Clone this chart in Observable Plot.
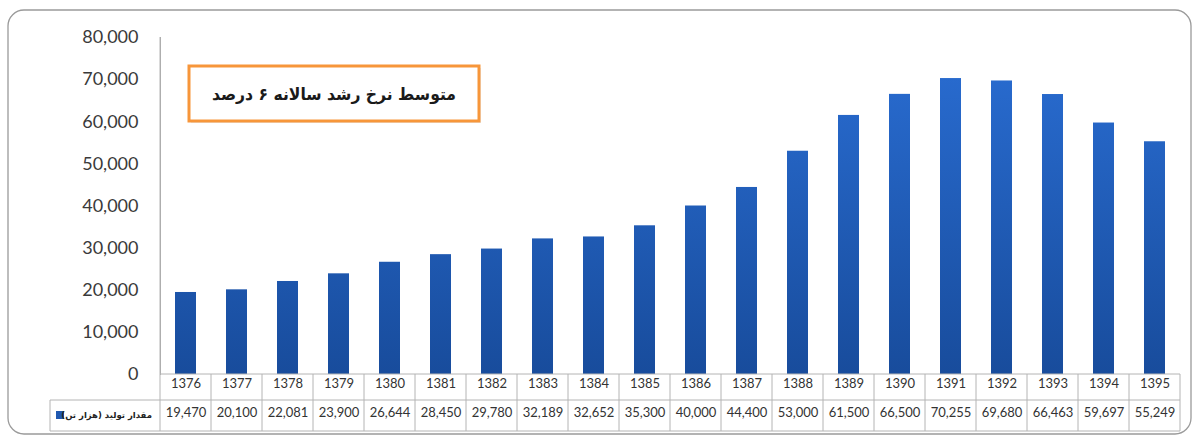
<!DOCTYPE html>
<html>
<head>
<meta charset="utf-8">
<script src="https://cdn.jsdelivr.net/npm/d3@7"></script>
<script src="https://cdn.jsdelivr.net/npm/@observablehq/plot@0.6"></script>
<style>
  html, body { margin: 0; padding: 0; background: #ffffff; }
  #chart { width: 1194px; height: 437px; overflow: hidden; }
</style>
</head>
<body>
<div id="chart"></div>
<script>
// ---- data ----
const years = ["1376","1377","1378","1379","1380","1381","1382","1383","1384","1385",
               "1386","1387","1388","1389","1390","1391","1392","1393","1394","1395"];
const production = [19470, 20100, 22081, 23900, 26644, 28450, 29780, 32189, 32652, 35300,
                    40000, 44400, 53000, 61500, 66500, 70255, 69680, 66463, 59697, 55249];
const yTicks = [0, 10000, 20000, 30000, 40000, 50000, 60000, 70000, 80000];
const seriesLabel = "مقدار تولید (هزار تن)";
const noteLabel = "متوسط نرخ رشد سالانه ۶ درصد";

const rows = years.map((year, i) => ({year, value: production[i]}));
const fmt = d3.format(",");
const font = "Lato, 'Open Sans', 'DejaVu Sans', sans-serif";

const plot = Plot.plot({
  width: 1194,
  height: 437,
  marginLeft: 160,
  marginRight: 14,
  marginTop: 37,
  marginBottom: 63,
  style: {fontFamily: font, background: "transparent", color: "#3a3a3a", overflow: "visible"},
  x: {type: "band", domain: years, paddingInner: 0.59, paddingOuter: 0.295, axis: null},
  y: {domain: [0, 80000], axis: null},
  marks: [
    Plot.axisY({ticks: yTicks, tickSize: 0, tickPadding: 22, tickFormat: fmt, fontSize: 18, label: null}),
    Plot.frame({anchor: "left", stroke: "#a8a8a8"}),
    Plot.barY(rows, {x: "year", y: "value", fill: "url(#barGrad)"}),
    Plot.text(rows, {x: "year", text: "year", frameAnchor: "bottom", dy: 13, fontSize: 13, fill: "#333"}),
    Plot.text(rows, {x: "year", text: d => fmt(d.value), frameAnchor: "bottom", dy: 42, fontSize: 13, fill: "#333"})
  ]
});

document.getElementById("chart").appendChild(plot);

const svg = d3.select(plot);
const xs = plot.scale("x");
const ys = plot.scale("y");
const yTop = ys.apply(80000);
const y0 = ys.apply(0);

// gradient for bars
const defs = svg.insert("defs", ":first-child");
const grad = defs.append("linearGradient")
  .attr("id", "barGrad")
  .attr("gradientUnits", "userSpaceOnUse")
  .attr("x1", 0).attr("x2", 0)
  .attr("y1", yTop).attr("y2", y0);
grad.append("stop").attr("offset", "0%").attr("stop-color", "#2a6ed4");
grad.append("stop").attr("offset", "100%").attr("stop-color", "#184c9c");

// outer rounded border
svg.insert("rect", ":first-child")
  .attr("x", 8).attr("y", 10).attr("width", 1183).attr("height", 424)
  .attr("rx", 16).attr("fill", "none").attr("stroke", "#9a9a9a").attr("stroke-width", 1.3);

// data table grid
const g = svg.append("g").attr("stroke", "#b4b4b4").attr("stroke-width", 1);
const left = xs.range[0], right = xs.range[1];
const row1 = y0 + 26, row2 = y0 + 57;
const legendLeft = 50;
g.append("line").attr("x1", left).attr("x2", right).attr("y1", y0).attr("y2", y0);
g.append("line").attr("x1", legendLeft).attr("x2", right).attr("y1", row1).attr("y2", row1);
g.append("line").attr("x1", legendLeft).attr("x2", right).attr("y1", row2).attr("y2", row2);
g.append("line").attr("x1", legendLeft).attr("x2", legendLeft).attr("y1", row1).attr("y2", row2);
for (let i = 0; i <= years.length; i++) {
  const x = left + i * xs.step;
  g.append("line").attr("x1", x).attr("x2", x).attr("y1", i === 0 ? yTop : y0).attr("y2", row2);
}

// legend cell
svg.append("rect").attr("x", 56).attr("y", row1 + 11).attr("width", 8).attr("height", 8).attr("fill", "#1f58b0");
svg.append("text")
  .attr("x", 152).attr("y", (row1 + row2) / 2)
  .attr("direction", "rtl").attr("text-anchor", "start").attr("dy", "0.35em")
  .attr("font-family", "'DejaVu Sans', sans-serif").attr("font-size", 8.5).attr("font-weight", "bold")
  .attr("fill", "#222")
  .text(seriesLabel);

// annotation box
svg.append("rect").attr("x", 191).attr("y", 68).attr("width", 290).attr("height", 55)
  .attr("fill", "#d8d8d8").attr("opacity", 0.6);
svg.append("rect").attr("x", 189).attr("y", 66).attr("width", 290).attr("height", 55)
  .attr("fill", "#ffffff").attr("stroke", "#f7963a").attr("stroke-width", 3);
svg.append("text")
  .attr("x", 334).attr("y", 94)
  .attr("direction", "rtl").attr("text-anchor", "middle").attr("dy", "0.35em")
  .attr("font-family", "'DejaVu Sans', sans-serif").attr("font-size", 17).attr("font-weight", "bold")
  .attr("textLength", 244).attr("lengthAdjust", "spacingAndGlyphs")
  .attr("fill", "#1a1a1a")
  .text(noteLabel);
</script>
</body>
</html>
